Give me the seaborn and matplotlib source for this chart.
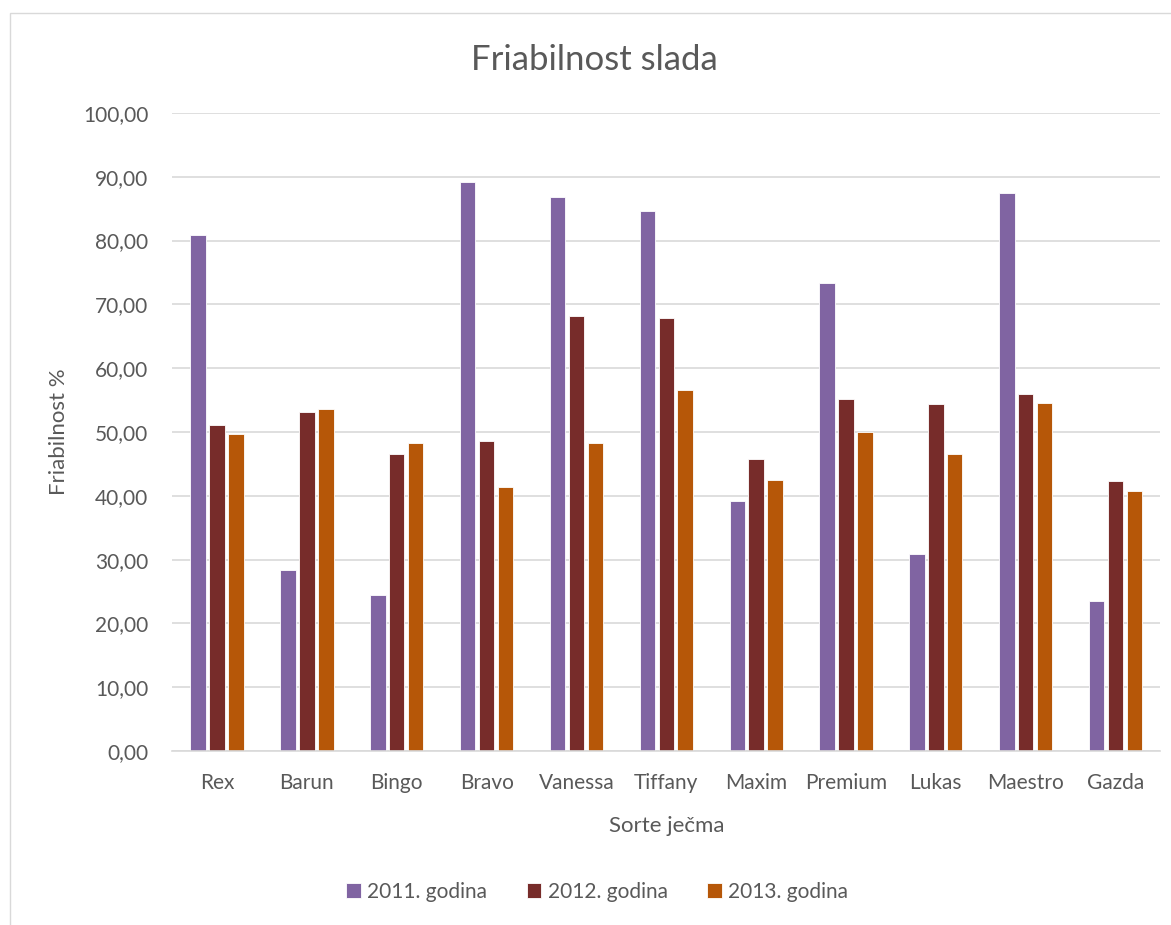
import pandas as pd
import numpy as np
import matplotlib
matplotlib.use("Agg")
import matplotlib.pyplot as plt
import seaborn as sns
from matplotlib.ticker import FuncFormatter, MultipleLocator
from matplotlib.patches import Rectangle

sorte = ["Rex", "Barun", "Bingo", "Bravo", "Vanessa", "Tiffany", "Maxim",
         "Premium", "Lukas", "Maestro", "Gazda"]
godine = ["2011. godina", "2012. godina", "2013. godina"]
v2011 = [80.9, 28.4, 24.5, 89.1, 86.8, 84.6, 39.2, 73.4, 30.9, 87.5, 23.5]
v2012 = [51.1, 53.1, 46.5, 48.6, 68.1, 67.8, 45.8, 55.2, 54.4, 56.0, 42.3]
v2013 = [49.7, 53.6, 48.2, 41.4, 48.3, 56.6, 42.5, 50.0, 46.6, 54.5, 40.8]
boje = ["#8064A2", "#772C2A", "#B65708"]

df = pd.DataFrame({
    "sorta": sorte * 3,
    "godina": [g for g in godine for _ in sorte],
    "vrijednost": v2011 + v2012 + v2013,
})

sns.set_theme(style="white")
plt.rcParams["font.family"] = ["Lato", "DejaVu Sans"]
siva = "#595959"

fig = plt.figure(figsize=(11.71, 9.25), dpi=100)
ax = fig.add_axes([0.147, 0.188, 0.844, 0.69])

sns.barplot(data=df, x="sorta", y="vrijednost", hue="godina",
            palette=boje, saturation=1, width=0.63, gap=0.18, ax=ax,
            edgecolor="white", linewidth=0.6, legend=True)

ax.set_ylim(0, 100)
ax.yaxis.set_major_locator(MultipleLocator(10))
ax.yaxis.set_major_formatter(FuncFormatter(lambda v, p: f"{v:.2f}".replace(".", ",")))
ax.grid(axis="y", color="#D9D9D9", linewidth=1.2)
ax.set_axisbelow(True)
for s in ["top", "right", "left"]:
    ax.spines[s].set_visible(False)
ax.spines["bottom"].set_color("#D9D9D9")
ax.spines["bottom"].set_linewidth(1.2)
ax.tick_params(axis="x", length=0, labelsize=15, colors=siva, pad=16)
ax.tick_params(axis="y", length=0, labelsize=15, colors=siva, pad=17)

ax.set_xlabel("Sorte ječma", fontsize=16, color=siva, labelpad=16)
ax.set_ylabel("Friabilnost %", fontsize=16, color=siva, labelpad=10)
fig.text(0.508, 0.935, "Friabilnost slada", ha="center", va="center",
         fontsize=25, color=siva)

handles, labels = ax.get_legend_handles_labels()
ax.legend_.remove()
fig.legend(handles, labels, loc="center", bbox_to_anchor=(0.51, 0.036),
           ncol=3, frameon=False, fontsize=15, labelcolor=siva,
           handlelength=0.7, handleheight=0.7, handletextpad=0.3,
           columnspacing=1.9)

fig.patches.append(Rectangle((10 / 1171, -0.5), 2.0, 0.5 + (1 - 13 / 925),
                             transform=fig.transFigure, fill=False,
                             edgecolor="#D9D9D9", linewidth=1.0))

fig.savefig("out.png", dpi=100, facecolor="white")
